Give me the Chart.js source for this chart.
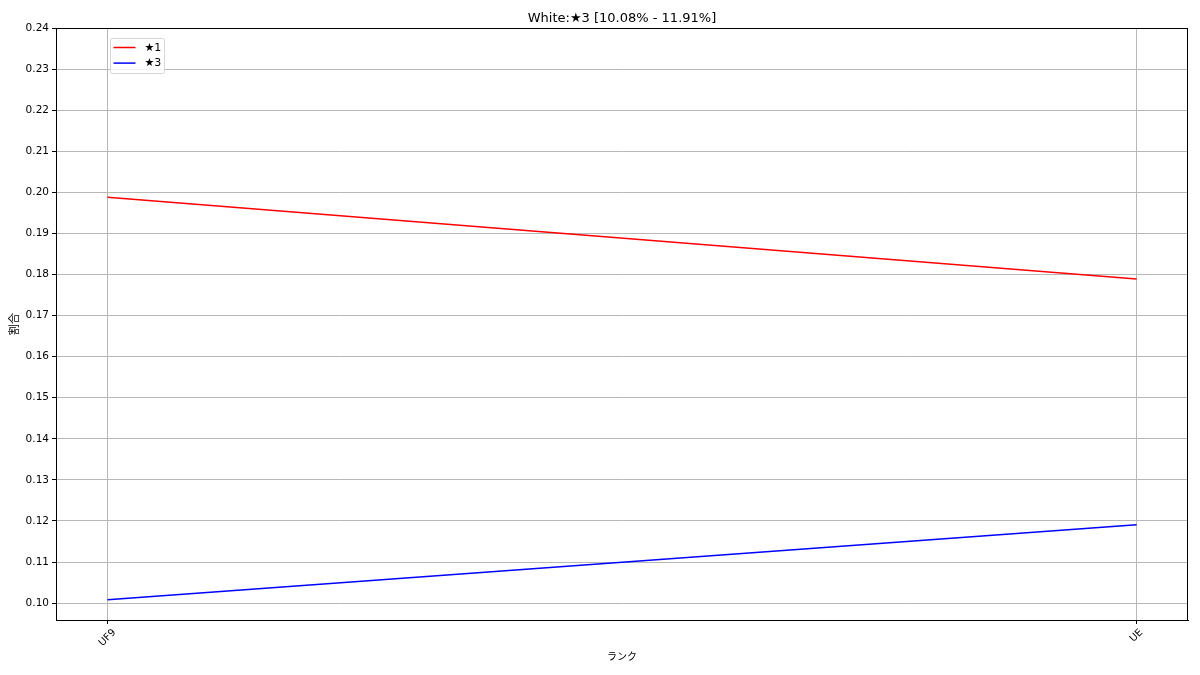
<!DOCTYPE html>
<html>
<head>
<meta charset="utf-8">
<script src="https://cdn.jsdelivr.net/npm/chart.js@4/dist/chart.umd.min.js"></script>
<style>
  html, body { margin: 0; padding: 0; background: #fff; }
  canvas { display: block; }
</style>
</head>
<body>
<canvas id="chart" width="1200" height="675"></canvas>
<script>
// chart data
const ranks = ['UF9', 'UE'];
const star1 = [0.1988, 0.1789];
const star3 = [0.1008, 0.1191];
const yTicks = [0.10, 0.11, 0.12, 0.13, 0.14, 0.15, 0.16, 0.17, 0.18, 0.19, 0.20, 0.21, 0.22, 0.23, 0.24];
const seriesNames = ['★1', '★3'];
const seriesColors = ['#ff0000', '#0000ff'];
const titleText = 'White:★3 [10.08% - 11.91%]';
const xLabel = 'ランク';
const yLabel = '割合';

const FONT = '"DejaVu Sans", "Noto Sans CJK JP", sans-serif';

function toPoints(values) {
    return values.map(function (v, i) { return { x: i, y: v }; });
}

// frame, title, axis labels, rotated x tick labels and legend
const decorPlugin = {
    id: 'decor',
    afterDatasetsDraw: function (chart) {
        const ctx = chart.ctx;
        const a = chart.chartArea;
        ctx.save();
        ctx.strokeStyle = '#000';
        ctx.lineWidth = 1;
        ctx.strokeRect(Math.round(a.left) + 0.5, Math.round(a.top) + 0.5,
            Math.round(a.right - a.left) - 1, Math.round(a.bottom - a.top));
        ctx.restore();
    },
    afterDraw: function (chart) {
        const ctx = chart.ctx;
        const a = chart.chartArea;
        const cx = (a.left + a.right) / 2;
        ctx.save();
        ctx.fillStyle = '#000';

        // title
        ctx.font = '13px ' + FONT;
        ctx.textAlign = 'center';
        ctx.textBaseline = 'alphabetic';
        ctx.fillText(titleText, cx, a.top - 6);

        // axis labels
        ctx.font = '10px ' + FONT;
        ctx.textBaseline = 'middle';
        ctx.fillText(xLabel, cx, 657);
        ctx.save();
        ctx.translate(15, (a.top + a.bottom) / 2);
        ctx.rotate(-Math.PI / 2);
        ctx.font = '11px ' + FONT;
        ctx.fillText(yLabel, 0, 0);
        ctx.restore();

        // x tick labels, rotated 45deg and centred under the tick
        const xs = chart.scales.x;
        ranks.forEach(function (r, i) {
            const px = xs.getPixelForValue(i);
            const w = ctx.measureText(r).width;
            const h = 11;
            const half = (w + h) / (2 * Math.SQRT2);
            ctx.save();
            ctx.translate(px, a.bottom + 7 + half);
            ctx.rotate(-Math.PI / 4);
            ctx.textAlign = 'center';
            ctx.textBaseline = 'middle';
            ctx.fillText(r, 0, 0);
            ctx.restore();
        });

        // legend box in upper left
        const lx = a.left + 54.5, ly = a.top + 10.5, lw = 54, lh = 35;
        ctx.beginPath();
        ctx.roundRect(lx, ly, lw, lh, 2);
        ctx.fillStyle = 'rgba(255,255,255,0.8)';
        ctx.fill();
        ctx.strokeStyle = '#d6d6d6';
        ctx.lineWidth = 1;
        ctx.stroke();
        ctx.font = '11px ' + FONT;
        chart.data.datasets.forEach(function (ds, i) {
            const y = ly + 9 + i * 15.6;
            ctx.beginPath();
            ctx.moveTo(lx + 3, y);
            ctx.lineTo(lx + 25, y);
            ctx.strokeStyle = ds.borderColor;
            ctx.lineWidth = 1.5;
            ctx.stroke();
            ctx.fillStyle = '#000';
            ctx.textAlign = 'left';
            ctx.textBaseline = 'middle';
            ctx.fillText(ds.label, lx + 34, y + 0.5);
        });
        ctx.restore();
    }
};

const ctx = document.getElementById('chart');

new Chart(ctx, {
    type: 'line',
    data: {
        datasets: [
            { label: seriesNames[0], data: toPoints(star1), borderColor: seriesColors[0], backgroundColor: seriesColors[0] },
            { label: seriesNames[1], data: toPoints(star3), borderColor: seriesColors[1], backgroundColor: seriesColors[1] }
        ]
    },
    plugins: [decorPlugin],
    options: {
        responsive: false,
        animation: false,
        devicePixelRatio: 1,
        layout: { padding: { left: 0, top: 28, right: 12, bottom: 0 } },
        elements: {
            line: { borderWidth: 1.5, tension: 0 },
            point: { radius: 0, hoverRadius: 0 }
        },
        plugins: {
            legend: { display: false },
            title: { display: false },
            tooltip: { enabled: false }
        },
        scales: {
            x: {
                type: 'linear',
                min: -0.05,
                max: 1.05,
                afterBuildTicks: function (scale) {
                    scale.ticks = ranks.map(function (r, i) { return { value: i }; });
                },
                afterFit: function (scale) { scale.height = 55; },
                grid: { color: '#b8b8b8', lineWidth: 1, tickColor: '#000', tickLength: 4 },
                border: { color: '#000', width: 1 },
                ticks: { display: false }
            },
            y: {
                min: 0.0959,
                max: 0.24,
                afterBuildTicks: function (scale) {
                    scale.ticks = yTicks.map(function (v) { return { value: v }; });
                },
                afterFit: function (scale) { scale.width = 56; },
                grid: { color: '#b8b8b8', lineWidth: 1, tickColor: '#000', tickLength: 4 },
                border: { color: '#000', width: 1 },
                ticks: {
                    color: '#000',
                    padding: 3,
                    font: { family: FONT, size: 10.5 },
                    callback: function (v) { return v.toFixed(2); }
                }
            }
        }
    }
});
</script>
</body>
</html>
